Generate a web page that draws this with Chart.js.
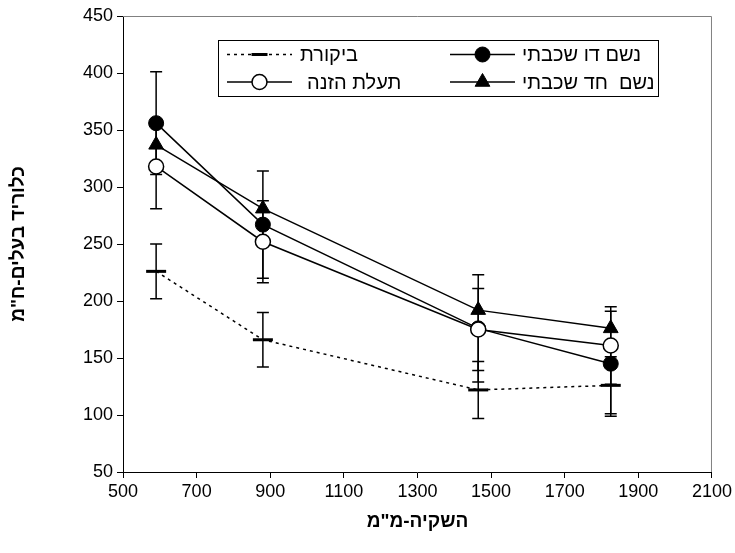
<!DOCTYPE html>
<html>
<head>
<meta charset="utf-8">
<script src="https://cdn.jsdelivr.net/npm/chart.js"></script>
<style>
  html, body { margin: 0; padding: 0; background: #fff; }
  #wrap { width: 735px; height: 553px; }
</style>
</head>
<body>
<div id="wrap"><canvas id="chart" width="735" height="553"></canvas></div>
<script>
// irrigation (mm)
var irrigation = [590, 880, 1465, 1825];

// leaf chloride per treatment, with +/- error
var dualLayer = [356, 267, 176, 145];
var dualLayerErr = [45, 47, 47, 46];
var singleLayer = [337, 281, 192, 176];
var feedChannel = [318, 252, 175, 161];
var feedChannelErr = [37, 36, 36, 34];
var control = [226, 166, 122, 126];
var controlErr = [24, 24, 25, 25];

var seriesNames = ['נשם דו שכבתי', 'נשם  חד שכבתי', 'תעלת הזנה', 'ביקורת'];

var xTitle = 'השקיה-מ"מ';
var yTitle = 'כלוריד בעלים-ח"מ';

var FONT = '"Liberation Sans", Arial, "DejaVu Sans", sans-serif';

function points(values) {
    return values.map(function(v, i) { return {x: irrigation[i], y: v}; });
}

// lower order is drawn on top
var datasets = [
    {
        label: seriesNames[0],
        data: points(dualLayer),
        errors: dualLayerErr,
        order: 2,
        borderColor: '#000', borderWidth: 1.5,
        pointStyle: 'circle', pointRadius: 7.5,
        pointBackgroundColor: '#000', pointBorderColor: '#000', pointBorderWidth: 1
    },
    {
        label: seriesNames[1],
        data: points(singleLayer),
        order: 1,
        borderColor: '#000', borderWidth: 1.5,
        pointStyle: 'triangle', pointRadius: 8.5,
        pointBackgroundColor: '#000', pointBorderColor: '#000', pointBorderWidth: 1
    },
    {
        label: seriesNames[2],
        data: points(feedChannel),
        errors: feedChannelErr,
        order: 0,
        borderColor: '#000', borderWidth: 1.5,
        pointStyle: 'circle', pointRadius: 7.5,
        pointBackgroundColor: '#fff', pointBorderColor: '#000', pointBorderWidth: 1.5
    },
    {
        label: seriesNames[3],
        data: points(control),
        errors: controlErr,
        order: 3,
        borderColor: '#000', borderWidth: 1.5, borderDash: [3, 4],
        pointStyle: 'line', pointRadius: 10,
        pointBackgroundColor: '#000', pointBorderColor: '#000', pointBorderWidth: 3
    }
];

// vertical error bars with caps, under the markers
var errorBars = {
    id: 'errorBars',
    beforeDatasetsDraw: function(chart) {
        var ctx = chart.ctx;
        var xs = chart.scales.x, ys = chart.scales.y;
        ctx.save();
        ctx.strokeStyle = '#000';
        ctx.lineWidth = 1.5;
        chart.data.datasets.forEach(function(ds) {
            if (!ds.errors) return;
            ds.data.forEach(function(p, i) {
                var px = xs.getPixelForValue(p.x);
                var top = ys.getPixelForValue(p.y + ds.errors[i]);
                var bot = ys.getPixelForValue(p.y - ds.errors[i]);
                ctx.beginPath();
                ctx.moveTo(px, top); ctx.lineTo(px, bot);
                ctx.moveTo(px - 6, top); ctx.lineTo(px + 6, top);
                ctx.moveTo(px - 6, bot); ctx.lineTo(px + 6, bot);
                ctx.stroke();
            });
        });
        ctx.restore();
    }
};

// grey top and right edges of the plot frame
var frame = {
    id: 'frame',
    beforeDatasetsDraw: function(chart) {
        var a = chart.chartArea, ctx = chart.ctx;
        ctx.save();
        ctx.strokeStyle = '#808080';
        ctx.lineWidth = 1;
        ctx.beginPath();
        ctx.moveTo(a.left, a.top + 0.5);
        ctx.lineTo(a.right - 0.5, a.top + 0.5);
        ctx.lineTo(a.right - 0.5, a.bottom);
        ctx.stroke();
        ctx.restore();
    }
};

// boxed two-column legend inside the plot
var legendSlots = [
    {x0: 450, x1: 515, y: 54.5, tx: 522},
    {x0: 450, x1: 515, y: 82, tx: 522},
    {x0: 227, x1: 292, y: 82, tx: 307},
    {x0: 227, x1: 292, y: 54.5, tx: 300}
];
var boxLegend = {
    id: 'boxLegend',
    afterDraw: function(chart) {
        var ctx = chart.ctx;
        ctx.save();
        ctx.fillStyle = '#fff';
        ctx.fillRect(218, 40, 440, 56);
        ctx.strokeStyle = '#000';
        ctx.lineWidth = 1;
        ctx.strokeRect(218.5, 40.5, 440, 56);
        chart.data.datasets.forEach(function(ds, i) {
            var s = legendSlots[i];
            ctx.save();
            ctx.strokeStyle = ds.borderColor;
            ctx.lineWidth = ds.borderWidth;
            if (ds.borderDash) ctx.setLineDash(ds.borderDash);
            ctx.beginPath();
            ctx.moveTo(s.x0, s.y); ctx.lineTo(s.x1, s.y);
            ctx.stroke();
            ctx.restore();
            ctx.fillStyle = ds.pointBackgroundColor;
            ctx.strokeStyle = ds.pointBorderColor;
            ctx.lineWidth = ds.pointBorderWidth;
            Chart.helpers.drawPoint(ctx, {
                pointStyle: ds.pointStyle,
                radius: ds.pointStyle === 'line' ? 8 : ds.pointRadius,
                rotation: 0,
                borderWidth: ds.pointBorderWidth
            }, (s.x0 + s.x1) / 2, s.y);
            ctx.fillStyle = '#000';
            ctx.font = '20px ' + FONT;
            ctx.textBaseline = 'middle';
            ctx.textAlign = 'left';
            ctx.fillText(ds.label, s.tx, s.y + 1);
        });
        ctx.restore();
    }
};

function plainTick(v) { return String(v); }

new Chart(document.getElementById('chart'), {
    type: 'line',
    data: {datasets: datasets},
    plugins: [errorBars, frame, boxLegend],
    options: {
        responsive: false,
        animation: false,
        layout: {padding: {top: 16, right: 23, left: 0, bottom: 0}},
        plugins: {legend: {display: false}, tooltip: {enabled: false}},
        scales: {
            x: {
                type: 'linear',
                min: 500, max: 2100,
                afterFit: function(s) { s.height = 81; },
                ticks: {stepSize: 200, color: '#000', padding: 3, callback: plainTick,
                    font: {family: FONT, size: 18}},
                grid: {display: true, drawOnChartArea: false, color: '#000', tickLength: 6},
                border: {color: '#000', width: 1},
                title: {display: true, text: xTitle, color: '#000', padding: {top: 0, bottom: 20},
                    font: {family: FONT, size: 19, weight: 'bold'}}
            },
            y: {
                min: 50, max: 450,
                afterFit: function(s) { s.width = 123; },
                ticks: {stepSize: 50, color: '#000', padding: 4, callback: plainTick,
                    font: {family: FONT, size: 18}},
                grid: {display: true, drawOnChartArea: false, color: '#000', tickLength: 6},
                border: {color: '#000', width: 1},
                title: {display: true, text: yTitle, color: '#000', padding: {top: 7, bottom: 0},
                    font: {family: FONT, size: 19, weight: 'bold'}}
            }
        }
    }
});
</script>
</body>
</html>
